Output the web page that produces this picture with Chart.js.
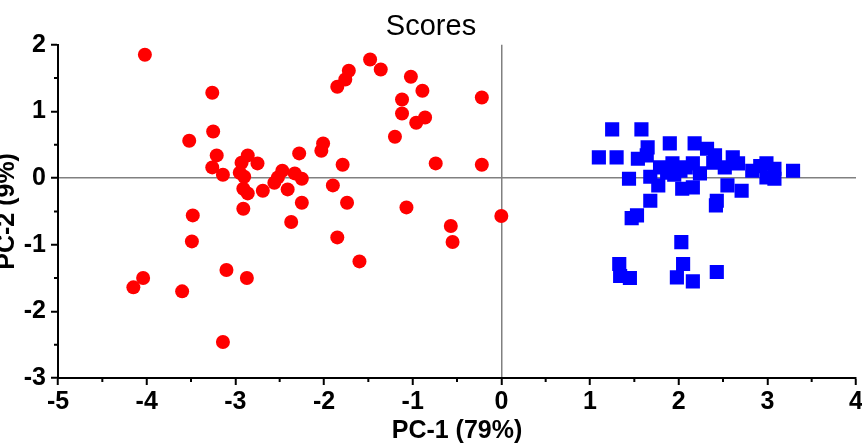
<!DOCTYPE html>
<html lang="en">
<head>
    <meta charset="UTF-8">
    <title>Scores</title>
    <script src="https://cdn.jsdelivr.net/npm/chart.js"></script>
    <style>
        html, body { margin: 0; padding: 0; background: #fff; }
        .chart-box { width: 862px; height: 444px; }
    </style>
</head>
<body>
    <div class="chart-box">
        <canvas id="scoresChart" width="862" height="444"></canvas>
    </div>
    <script>
    // group 1 (red circles)
    const redX = [-4.02, -3.26, -3.52, -3.25, -3.21, -3.26, -3.14, -2.86, -2.93, -2.75,
                  -2.95, -2.90, -2.91, -2.86, -2.69, -2.91, -2.47, -2.52, -2.56, -2.33,
                  -2.25, -2.41, -2.28, -2.25, -2.37, -3.48, -3.49, -3.10, -2.87, -4.04,
                  -4.15, -3.60, -3.14, -2.01, -2.03, -1.79, -1.90, -1.74, -1.20, -1.07,
                  -1.48, -1.36, -1.72, -1.76, -1.85, -1.02, -0.89, -1.12, -1.12, -0.96,
                  -0.86, -0.22, -0.22, -0.74, 0.00, -0.57, -0.55, -1.85, -1.60];
    const redY = [1.85, 1.28, 0.56, 0.70, 0.34, 0.16, 0.05, 0.34, 0.23, 0.22,
                  0.08, 0.02, -0.16, -0.23, -0.19, -0.46, 0.11, 0.01, -0.07, 0.07,
                  -0.01, -0.17, 0.37, -0.37, -0.66, -0.56, -0.95, -1.38, -1.50, -1.50,
                  -1.64, -1.70, -2.46, 0.52, 0.41, 0.20, -0.11, -0.37, 0.62, -0.44,
                  1.78, 1.63, 1.61, 1.48, 1.37, 1.52, 1.31, 1.18, 0.97, 0.83,
                  0.91, 1.21, 0.20, 0.22, -0.57, -0.72, -0.96, -0.89, -1.25];
    // group 2 (blue squares)
    const blueX = [1.25, 1.58, 1.10, 1.30, 1.65, 1.54, 1.64, 1.90, 2.18, 2.32,
                   2.41, 2.39, 2.61, 2.67, 2.52, 2.16, 2.24, 2.83, 2.99, 3.08,
                   2.99, 3.08, 3.29, 2.16, 2.55, 2.71, 2.43, 2.42, 1.44, 1.68,
                   1.79, 1.77, 1.93, 2.02, 1.87, 2.04, 1.68, 1.53, 1.47, 2.03,
                   1.33, 1.34, 1.45, 2.05, 1.98, 2.16, 2.43, 2.08, 2.92, 1.95];
    const blueY = [0.73, 0.73, 0.31, 0.31, 0.46, 0.29, 0.34, 0.52, 0.52, 0.44,
                   0.34, 0.23, 0.31, 0.22, 0.16, 0.22, 0.07, 0.11, 0.22, 0.14,
                   0.01, -0.01, 0.11, -0.14, -0.11, -0.19, -0.34, -0.41, -0.01, 0.02,
                   0.16, -0.11, 0.22, 0.11, 0.08, -0.16, -0.34, -0.56, -0.60, -0.96,
                   -1.29, -1.47, -1.50, -1.29, -1.49, -1.55, -1.41, 0.16, 0.18, 0.05];
    const xTicks = [-5, -4, -3, -2, -1, 0, 1, 2, 3, 4];
    const yTicks = [-3, -2, -1, 0, 1, 2];

    const toPoints = (xs, ys) => xs.map((x, i) => ({ x: x, y: ys[i] }));
    const tickFont = { family: 'Liberation Sans, Arial, sans-serif', size: 25, weight: 'bold' };
    const axisFont = { family: 'Liberation Sans, Arial, sans-serif', size: 25, weight: 'bold' };
    const zeroLine = ctx => (ctx.tick && ctx.tick.value === 0) ? '#808080' : 'rgba(0,0,0,0)';

    // half-unit minor ticks, pointing outward like the major ones
    const minorTicks = {
        id: 'minorTicks',
        afterDraw(chart) {
            const ctx = chart.ctx;
            const xs = chart.scales.x, ys = chart.scales.y;
            const area = chart.chartArea;
            ctx.save();
            ctx.strokeStyle = '#000';
            ctx.lineWidth = 2;
            ctx.beginPath();
            for (let v = xs.min + 0.5; v < xs.max; v += 1) {
                const px = xs.getPixelForValue(v);
                ctx.moveTo(px, area.bottom);
                ctx.lineTo(px, area.bottom + 4);
            }
            for (let v = ys.min + 0.5; v < ys.max; v += 1) {
                const py = ys.getPixelForValue(v);
                ctx.moveTo(area.left, py);
                ctx.lineTo(area.left - 4, py);
            }
            ctx.stroke();
            ctx.restore();
        }
    };

    new Chart(document.getElementById('scoresChart').getContext('2d'), {
        type: 'scatter',
        data: {
            datasets: [{
                label: 'Group 1',
                data: toPoints(redX, redY),
                pointStyle: 'circle',
                pointRadius: 7,
                pointHoverRadius: 7,
                pointBorderWidth: 0,
                backgroundColor: '#ff0000',
                borderColor: '#ff0000'
            }, {
                label: 'Group 2',
                data: toPoints(blueX, blueY),
                pointStyle: 'rect',
                pointRadius: 10,
                pointHoverRadius: 10,
                pointBorderWidth: 0,
                backgroundColor: '#0000ff',
                borderColor: '#0000ff'
            }]
        },
        options: {
            responsive: false,
            animation: false,
            layout: { autoPadding: false, padding: { left: 0, right: 0, top: 0, bottom: 0 } },
            plugins: {
                legend: { display: false },
                tooltip: { enabled: false },
                title: {
                    display: true,
                    text: 'Scores',
                    color: '#000',
                    font: { family: 'Liberation Sans, Arial, sans-serif', size: 29, weight: 'normal' },
                    padding: { top: 10, bottom: 0 }
                }
            },
            scales: {
                x: {
                    type: 'linear',
                    min: xTicks[0],
                    max: xTicks[xTicks.length - 1],
                    afterBuildTicks: s => { s.ticks = xTicks.map(v => ({ value: v })); },
                    afterFit: s => { s.height = 66; s.paddingLeft = 0; s.paddingRight = 6; },
                    border: { display: true, color: '#000', width: 2 },
                    grid: { color: zeroLine, lineWidth: 1.5, tickColor: '#000', tickWidth: 2, tickLength: 7 },
                    ticks: { color: '#000', font: tickFont, padding: 2, maxRotation: 0 },
                    title: { display: true, text: 'PC-1 (79%)', color: '#000', font: { ...axisFont, lineHeight: 1 }, padding: { top: 0, bottom: 0 } }
                },
                y: {
                    type: 'linear',
                    min: yTicks[0],
                    max: yTicks[yTicks.length - 1],
                    afterBuildTicks: s => { s.ticks = yTicks.map(v => ({ value: v })); },
                    afterFit: s => { s.width = 58; },
                    border: { display: true, color: '#000', width: 2 },
                    grid: { color: zeroLine, lineWidth: 1.5, tickColor: '#000', tickWidth: 2, tickLength: 7 },
                    ticks: { color: '#000', font: tickFont, padding: 5 },
                    title: { display: true, text: 'PC-2 (9%)', color: '#000', font: { ...axisFont, lineHeight: 0.8 }, padding: { top: -3, bottom: 0 } }
                }
            }
        },
        plugins: [minorTicks]
    });
    </script>
</body>
</html>
